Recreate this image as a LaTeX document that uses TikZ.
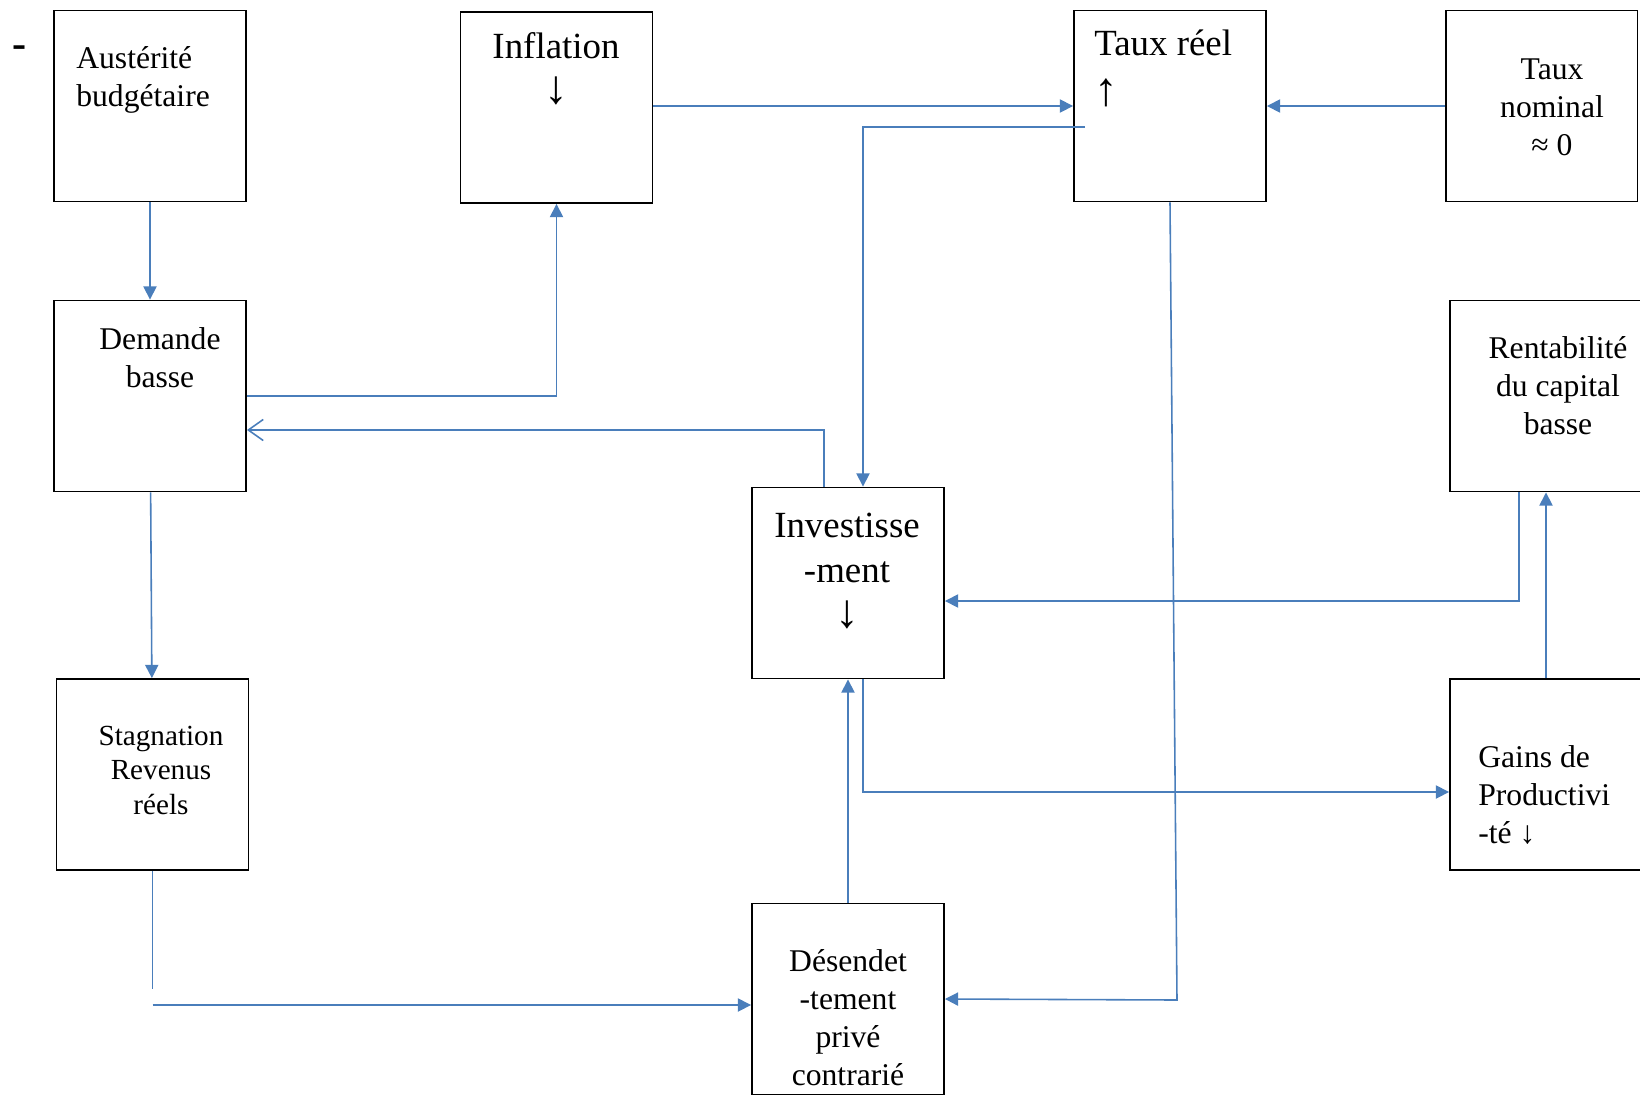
\documentclass[tikz,border=0pt]{standalone}
\usepackage{fontspec}
\setmainfont{Liberation Serif}
\usetikzlibrary{arrows.meta,calc}
\begin{document}
\begin{tikzpicture}[x=0.02cm, y=-0.02cm,
    box/.style={draw, line width=1.1pt, minimum width=3.84cm, minimum height=3.82cm, inner sep=0pt},
    lbl/.style={inner sep=0pt, anchor=base},
    flow/.style={draw=lineblue, line width=0.9pt, -{Triangle[length=7.5pt,width=7.5pt]}},
    back/.style={draw=lineblue, line width=0.9pt, -{Straight Barb[length=8.5pt,width=12pt]}},
    link/.style={draw=lineblue, line width=0.9pt}]
    \def\fA{\fontsize{21}{25.6}\selectfont}
    \def\fB{\fontsize{18}{21.5}\selectfont}
    \def\fC{\fontsize{16.6}{19.6}\selectfont}
    \def\fD#1{{\fontsize{27}{27}\selectfont#1}}
    \definecolor{lineblue}{RGB}{74,126,187}
    \useasboundingbox (0,0) rectangle (1640,1096);
    \node[box] (aust)  at (150,106)    {};
    \node[box] (infl)  at (556.5,107.5) {};
    \node[box] (reel)  at (1170,106)   {};
    \node[box] (nom)   at (1541.5,106) {};
    \node[box] (dem)   at (150,396)    {};
    \node[box] (rent)  at (1546,396)   {};
    \node[box] (inv)   at (848,583)    {};
    \node[box] (stag)  at (152.5,774.5) {};
    \node[box] (gains) at (1546,774.5) {};
    \node[box] (des)   at (848,999)    {};
    \node[inner sep=0pt, font=\fontsize{24}{24}\selectfont\bfseries] (dash) at (19.5,52) {-};
    \node[lbl, anchor=base west, align=left, font=\fB] (austT) at (76,106) {Austérité\\budgétaire};
    \node[lbl, align=center, font=\fA] (inflT) at (556,103) {Inflation\\\fD{↓}};
    \node[lbl, anchor=base west, align=left, font=\fontsize{21}{28.4}\selectfont] (reelT) at (1094,105) {Taux réel\\\fD{↑}};
    \node[lbl, align=center, font=\fB] (nomT) at (1552,155) {Taux\\nominal\\≈ 0};
    \node[lbl, align=center, font=\fB] (demT) at (160,387) {Demande\\basse};
    \node[lbl, align=center, font=\fB] (rentT) at (1558,434) {Rentabilité\\du capital\\basse};
    \node[lbl, align=center, font=\fA] (invT) at (847,627) {Investisse\\-ment\\\fD{↓}};
    \node[lbl, align=center, font=\fC] (stagT) at (161,814) {Stagnation\\Revenus\\réels};
    \node[lbl, anchor=base west, align=left, font=\fB] (gainsT) at (1478,843) {Gains de\\Productivi\\-té ↓};
    \node[lbl, align=center, font=\fB] (desT) at (848,1085) {Désendet\\-tement\\privé\\contrarié};
    \coordinate (i1) at ($(infl.east)+(0,-1.5)$);
    \coordinate (r1) at (1085,127);
    \coordinate (r2) at (1177,1000);
    \coordinate (s1) at (152.5,989);
    \coordinate (s2) at (152.5,1005);
    \draw[flow] (aust) -- (dem);
    \draw[flow] (dem) -- (stag);
    \draw[flow] (dem.east) -| (infl.south);
    \draw[flow] (i1) -- (reel.west |- i1);
    \draw[flow] (nom) -- (reel);
    \draw[flow] (r1) -| ($(inv.north)+(15,0)$);
    \draw[back] ($(inv.north)+(-24,0)$) |- ($(dem.east)+(0,34)$);
    \draw[flow] ($(rent.south)+(-27,0)$) |- ($(inv.east)+(0,18)$);
    \draw[flow] (gains) -- (rent);
    \draw[flow] ($(inv.south)+(15,0)$) |- ($(gains.west)+(0,17.5)$);
    \draw[flow] (des) -- (inv);
    \draw[flow] (reel.south) -- (r2) -- (des.east);
    \draw[link] (stag.south) -- (s1);
    \draw[flow] (s2) -- (des.west |- s2);
  \end{tikzpicture}
\end{document}
